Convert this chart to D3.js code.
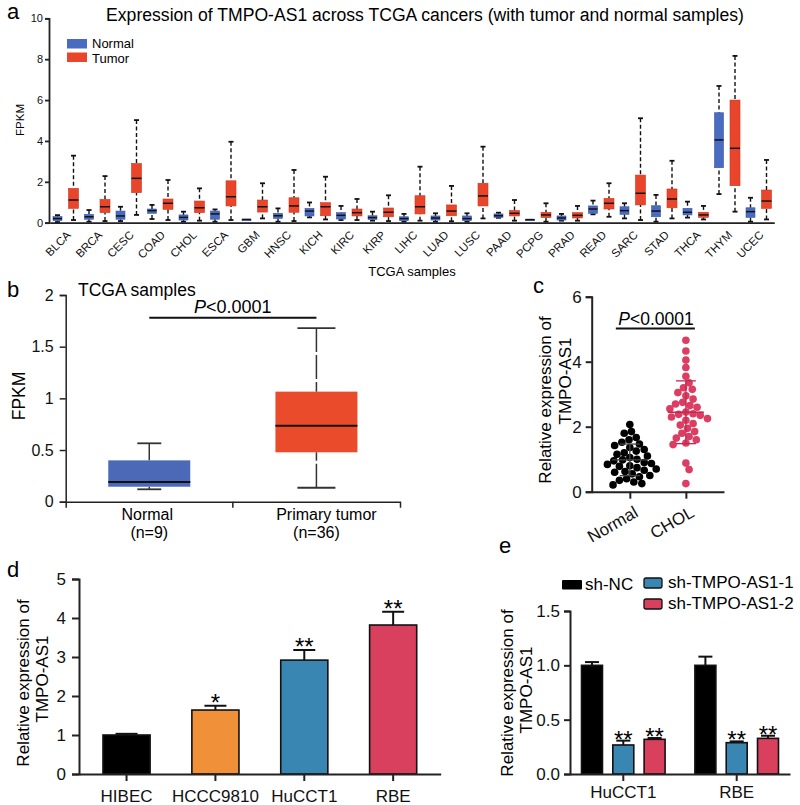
<!DOCTYPE html>
<html><head><meta charset="utf-8">
<script src="https://cdn.jsdelivr.net/npm/d3@7"></script>
<style>body{margin:0;background:#fff}svg{display:block}text{font-family:"Liberation Sans",Arial,Helvetica,sans-serif}</style>
</head><body><svg id="fig" width="800" height="805"></svg>
<script>
// ---------- Panel a data ----------
const cancerTypes = ["BLCA","BRCA","CESC","COAD","CHOL","ESCA","GBM","HNSC","KICH","KIRC","KIRP","LIHC","LUAD","LUSC","PAAD","PCPG","PRAD","READ","SARC","STAD","THCA","THYM","UCEC"];
// [min, q1, median, q3, max]
const normalStats = [
 [0.03,0.10,0.20,0.30,0.37],[0.05,0.17,0.29,0.41,0.62],[0.08,0.17,0.33,0.57,0.78],[0.18,0.46,0.59,0.67,0.87],
 [0.05,0.13,0.26,0.38,0.54],[0.05,0.17,0.43,0.57,0.65],[0.14,0.14,0.16,0.17,0.17],[0.05,0.21,0.34,0.46,0.70],
 [0.26,0.33,0.57,0.70,0.99],[0.13,0.18,0.36,0.49,0.82],[0.10,0.16,0.25,0.34,0.54],[0.05,0.10,0.20,0.29,0.43],
 [0.05,0.13,0.23,0.33,0.46],[0.05,0.10,0.20,0.33,0.46],[0.24,0.26,0.34,0.43,0.49],[0.13,0.13,0.15,0.17,0.17],
 [0.10,0.13,0.23,0.33,0.43],[0.41,0.46,0.67,0.82,1.08],[0.21,0.41,0.59,0.78,0.95],[0.05,0.29,0.57,0.83,1.36],
 [0.25,0.38,0.51,0.70,1.03],[1.40,2.69,4.05,5.38,6.69],[0.05,0.26,0.54,0.73,1.22]
];
const tumorStats = [
 [0.13,0.70,1.11,1.68,3.28],[0.08,0.49,0.78,1.14,2.28],[0.38,1.47,2.17,2.90,5.02],[0.13,0.65,0.95,1.16,2.09],
 [0.10,0.49,0.73,1.06,1.68],[0.13,0.82,1.27,2.05,3.96],[0.21,0.52,0.78,1.11,1.93],[0.08,0.51,0.82,1.22,2.58],
 [0.16,0.34,0.78,0.98,2.25],[0.13,0.33,0.49,0.67,1.16],[0.08,0.29,0.51,0.72,1.34],[0.10,0.43,0.78,1.32,2.74],
 [0.07,0.34,0.57,0.87,1.80],[0.21,0.82,1.31,1.93,3.72],[0.10,0.33,0.46,0.60,1.11],[0.05,0.25,0.38,0.51,0.95],
 [0.10,0.23,0.36,0.49,0.82],[0.29,0.67,0.95,1.19,1.93],[0.13,0.87,1.44,2.33,5.11],[0.21,0.73,1.16,1.65,3.03],
 [0.16,0.26,0.38,0.51,0.82],[0.54,1.81,3.64,6.00,8.16],[0.16,0.70,1.06,1.60,3.07]
];
const yTicksA = [0,2,4,6,8,10];
const groupsA = ["Normal","Tumor"];

// ---------- Panel b data ----------
const groupsB = ["Normal","Primary tumor"];
const countsB = ["(n=9)","(n=36)"];
const statsB = [[0.12,0.145,0.19,0.40,0.565],[0.135,0.478,0.735,1.065,1.68]];
const yTicksB = [0,0.5,1,1.5,2];

// ---------- Panel c data ----------
const groupsC = ["Normal","CHOL"];
const cNormal = [2.07,1.85,1.80,1.67,1.60,1.52,1.47,1.42,1.36,1.30,1.25,1.20,1.15,1.10,1.05,1.00,0.98,0.95,0.90,0.87,0.84,0.80,0.78,0.74,0.70,0.66,0.62,0.60,0.55,0.50,0.46,0.40,0.35,0.30,0.25,0.21];
const cChol = [4.66,4.33,4.05,3.82,3.55,3.35,3.20,3.15,3.05,2.95,2.85,2.75,2.70,2.65,2.60,2.55,2.45,2.40,2.38,2.35,2.30,2.25,2.20,2.10,2.05,1.95,1.85,1.80,1.70,1.65,1.60,1.50,1.45,0.88,0.68,0.25];
const yTicksC = [0,2,4,6];

// ---------- Panel d data ----------
const dCells = ["HIBEC","HCCC9810","HuCCT1","RBE"];
const dMeans = [1.00,1.64,2.92,3.82];
const dErrs = [0.03,0.11,0.26,0.34];
const dStars = ["","*","**","**"];
const yTicksD = [0,1,2,3,4,5];

// ---------- Panel e data ----------
const eCells = ["HuCCT1","RBE"];
const eSeries = ["sh-NC","sh-TMPO-AS1-1","sh-TMPO-AS1-2"];
const eNC = [1.00,1.00];
const eSh1 = [0.267,0.288];
const eSh2 = [0.319,0.328];
const eNCerr = [0.03,0.08];
const eSh1err = [0.04,0.012];
const eSh2err = [0.012,0.024];
const eStars = [["","**","**"],["","**","**"]];
const yTicksE = [0,0.5,1.0,1.5];

// ---------- styles ----------
const AX = "#222";
const colA = {Normal:"#4a6cc0", Tumor:"#e9452a"};
const colB = ["#4b69b6","#ea4b2b"];
const colC = ["#000000","#dc3d63"];
const colD = ["#000000","#f0913a","#3a86b3","#d9405e"];
const colE = ["#000000","#3a86b3","#d9405e"];

const svg = d3.select("#fig");
function styleAxis(sel, fs, sw){
  sel.attr("font-size",fs).attr("font-family",null);
  sel.selectAll("path,line").attr("stroke",AX).attr("stroke-width",sw||1.5);
  sel.selectAll("text").attr("font-size",fs).attr("fill","#111");
}
function letter(t,x,y){ svg.append("text").attr("x",x).attr("y",y).attr("font-size",22).text(t); }
function rotLabel(lines, xs, fs, centers){
  lines.forEach((t,i)=>{
    svg.append("text").attr("transform",`translate(${xs[i]},${centers[i]}) rotate(-90)`)
      .attr("text-anchor","middle").attr("font-size",fs).text(t);
  });
}
function drawBox(g, cx, w, s, y, fill, o){
  const [mn,q1,md,q3,mx] = s;
  const wl = g.append("g").attr("stroke",o.wColor).attr("stroke-width",o.wWidth).attr("stroke-dasharray",o.dash);
  wl.append("line").attr("x1",cx).attr("x2",cx).attr("y1",y(mx)).attr("y2",y(q3));
  wl.append("line").attr("x1",cx).attr("x2",cx).attr("y1",y(mn)).attr("y2",y(q1));
  const cp = g.append("g").attr("stroke",o.wColor).attr("stroke-width",o.capWidth);
  if (mx>q3) cp.append("line").attr("x1",cx-o.cap/2).attr("x2",cx+o.cap/2).attr("y1",y(mx)).attr("y2",y(mx));
  if (mn<q1) cp.append("line").attr("x1",cx-o.cap/2).attr("x2",cx+o.cap/2).attr("y1",y(mn)).attr("y2",y(mn));
  g.append("rect").attr("x",cx-w/2).attr("width",w).attr("y",y(q3)).attr("height",Math.max(1.5,y(q1)-y(q3)))
    .attr("fill",fill).attr("stroke",o.boxStroke||"none").attr("stroke-width",0.6);
  g.append("line").attr("x1",cx-w/2).attr("x2",cx+w/2).attr("y1",y(md)).attr("y2",y(md)).attr("stroke","#111").attr("stroke-width",o.medWidth);
}

// =============== Panel a ===============
letter("a",7,19);
const xA = d3.scaleBand().domain(cancerTypes).range([49.75,774.25]);
const subA = d3.scalePoint().domain(groupsA).range([-8,8]);
const yA = d3.scaleLinear().domain([0,10]).range([222.7,18.3]);
const gA = svg.append("g");
cancerTypes.forEach((c,i)=>{
  const cx = xA(c)+xA.bandwidth()/2;
  drawBox(gA, cx+subA("Normal"), 9, normalStats[i], yA, colA.Normal, {wColor:"#111",wWidth:1.4,dash:"4,2.5",cap:5,capWidth:1.8,medWidth:1.5,boxStroke:"#3857a5"});
  drawBox(gA, cx+subA("Tumor"), 10, tumorStats[i], yA, colA.Tumor, {wColor:"#111",wWidth:1.4,dash:"4,2.5",cap:5,capWidth:1.8,medWidth:1.5,boxStroke:"#c93a20"});
});
gA.append("g").attr("transform","translate(49,0)").call(d3.axisLeft(yA).tickValues(yTicksA).tickFormat(d3.format("d")).tickSize(4).tickPadding(2)).call(styleAxis,11,1.8);
const axA = gA.append("g").attr("transform",`translate(0,${yA(0)})`).call(d3.axisBottom(xA).tickSize(0).tickSizeOuter(0)).call(styleAxis,11.5,1.8);
axA.selectAll(".tick text").attr("text-anchor","end").attr("x",0).attr("y",0).attr("dy",0)
  .attr("transform","translate(6,13) rotate(-45)");
svg.append("text").attr("x",425).attr("y",21).attr("text-anchor","middle").attr("font-size",17.6)
  .text("Expression of TMPO-AS1 across TCGA cancers (with tumor and normal samples)");
svg.append("text").attr("transform","translate(24,120) rotate(-90)").attr("text-anchor","middle").attr("font-size",11.5).text("FPKM");
svg.append("text").attr("x",412).attr("y",276).attr("text-anchor","middle").attr("font-size",13).text("TCGA samples");
groupsA.forEach((gname,i)=>{
  svg.append("rect").attr("x",67).attr("y",39+i*13.5).attr("width",20).attr("height",9.5).attr("fill",colA[gname]);
  svg.append("text").attr("x",92).attr("y",48+i*14.5).attr("font-size",13).text(gname);
});

// =============== Panel b ===============
letter("b",7,297);
const xB = d3.scaleBand().domain(groupsB).range([65.7,400]);
const yB = d3.scaleLinear().domain([0,2]).range([501.7,295]);
const gB = svg.append("g");
groupsB.forEach((gname,i)=>{
  const cx = xB(gname)+xB.bandwidth()/2;
  drawBox(gB, cx, 82, statsB[i], yB, colB[i], {wColor:"#333",wWidth:1.5,dash:"24,3",cap:i?38:24,capWidth:1.8,medWidth:2});
});
gB.append("g").attr("transform","translate(65.7,0)").call(d3.axisLeft(yB).tickValues(yTicksB).tickFormat(d=>String(d)).tickSize(6).tickPadding(6)).call(styleAxis,16);
gB.append("g").attr("transform",`translate(0,${yB(0)})`).call(d3.axisBottom(xB).tickSize(0).tickSizeOuter(6).tickFormat("")).call(styleAxis,16);
gB.append("line").attr("x1",xB(groupsB[1])).attr("x2",xB(groupsB[1])).attr("y1",yB(0)).attr("y2",yB(0)+6).attr("stroke",AX).attr("stroke-width",1.5);
groupsB.forEach((gname,i)=>{
  const cx = xB(gname)+xB.bandwidth()/2;
  svg.append("text").attr("x",cx+(i?10:-2)).attr("y",520).attr("text-anchor","middle").attr("font-size",16).text(gname);
  svg.append("text").attr("x",cx).attr("y",538).attr("text-anchor","middle").attr("font-size",16).text(countsB[i]);
});
svg.append("text").attr("x",78).attr("y",296).attr("font-size",17.5).text("TCGA samples");
{
  const c0 = xB(groupsB[0])+xB.bandwidth()/2, c1 = xB(groupsB[1])+xB.bandwidth()/2;
  svg.append("line").attr("x1",c0).attr("x2",c1).attr("y1",317.7).attr("y2",317.7).attr("stroke","#111").attr("stroke-width",2);
  const t = svg.append("text").attr("x",(c0+c1)/2).attr("y",312.5).attr("text-anchor","middle").attr("font-size",18);
  t.append("tspan").attr("font-style","italic").text("P");
  t.append("tspan").text("<0.0001");
}
svg.append("text").attr("transform","translate(25,396) rotate(-90)").attr("text-anchor","middle").attr("font-size",17.5).text("FPKM");

// =============== Panel c ===============
letter("c",533,293);
const xC = d3.scalePoint().domain(groupsC).range([591.7,724]).padding(0.68);
const yC = d3.scaleLinear().domain([0,6]).range([491.7,296.7]);
const gC = svg.append("g");
function swarm(vals, cx, y, r){
  const placed = [];
  const order = vals.map((v,i)=>({v,i})).sort((a,b)=>b.v-a.v);
  const offs=[0]; for(let k=1;k<60;k++){offs.push(k*0.8,-k*0.8);}
  order.forEach(p=>{
    const py=y(p.v);
    for(const o of offs){
      const px=cx+o;
      if(placed.every(q=>(q.x-px)**2+(q.y-py)**2 >= (2*r*0.95)**2)){placed.push({x:px,y:py});break;}
    }
  });
  return placed;
}
[cNormal,cChol].forEach((vals,i)=>{
  const cx = xC(groupsC[i]);
  const pts = swarm(vals,cx,yC,3.8);
  gC.append("g").selectAll("circle").data(pts).join("circle").attr("cx",d=>d.x).attr("cy",d=>d.y).attr("r",3.8).attr("fill",colC[i]);
  const m = d3.mean(vals), s = d3.deviation(vals);
  const eg = gC.append("g").attr("stroke",i? "#c02a50":"#444").attr("stroke-width",1.3);
  eg.append("line").attr("x1",cx-18).attr("x2",cx+18).attr("y1",yC(m)).attr("y2",yC(m));
  eg.append("line").attr("x1",cx).attr("x2",cx).attr("y1",yC(m-s)).attr("y2",yC(m+s));
  eg.append("line").attr("x1",cx-10).attr("x2",cx+10).attr("y1",yC(m+s)).attr("y2",yC(m+s));
  eg.append("line").attr("x1",cx-10).attr("x2",cx+10).attr("y1",yC(m-s)).attr("y2",yC(m-s));
});
gC.append("g").attr("transform","translate(591.7,0)").call(d3.axisLeft(yC).tickValues(yTicksC).tickFormat(d3.format("d")).tickSize(6).tickPadding(4)).call(styleAxis,17,2);
const axC = gC.append("g").attr("transform",`translate(0,${yC(0)})`).call(d3.axisBottom(xC).tickSize(7).tickSizeOuter(0)).call(styleAxis,17,2);
axC.selectAll(".tick text").attr("text-anchor","end").attr("x",0).attr("y",0).attr("dy",0).attr("transform","translate(9,24) rotate(-30)");
{
  const c0 = xC(groupsC[0])-14, c1 = xC(groupsC[1])+9;
  svg.append("line").attr("x1",c0).attr("x2",c1).attr("y1",328.5).attr("y2",328.5).attr("stroke","#111").attr("stroke-width",2);
  const t = svg.append("text").attr("x",656).attr("y",325).attr("text-anchor","middle").attr("font-size",17.5);
  t.append("tspan").attr("font-style","italic").text("P");
  t.append("tspan").text("<0.0001");
}
rotLabel(["Relative expression of","TMPO-AS1"],[551,571],17,[400,381]);

// =============== Panel d ===============
letter("d",7,577);
const xD = d3.scaleBand().domain(dCells).range([79,440.7]).paddingInner(0.47).paddingOuter(0.27);
const yD = d3.scaleLinear().domain([0,5]).range([774,579]);
const gD = svg.append("g");
dCells.forEach((c,i)=>{
  const x0 = xD(c), bw = xD.bandwidth(), cx = x0+bw/2;
  gD.append("line").attr("x1",cx).attr("x2",cx).attr("y1",yD(dMeans[i])).attr("y2",yD(dMeans[i]+dErrs[i])).attr("stroke","#111").attr("stroke-width",2);
  gD.append("line").attr("x1",cx-11).attr("x2",cx+11).attr("y1",yD(dMeans[i]+dErrs[i])).attr("y2",yD(dMeans[i]+dErrs[i])).attr("stroke","#111").attr("stroke-width",2);
  gD.append("rect").attr("x",x0).attr("width",bw).attr("y",yD(dMeans[i])).attr("height",yD(0)-yD(dMeans[i])).attr("fill",colD[i]).attr("stroke","#111").attr("stroke-width",1.6);
  if(dStars[i]) gD.append("text").attr("x",cx).attr("y",yD(dMeans[i]+dErrs[i])+5).attr("text-anchor","middle").attr("font-size",24).text(dStars[i]);
});
gD.append("g").attr("transform","translate(79,0)").call(d3.axisLeft(yD).tickValues(yTicksD).tickFormat(d3.format("d")).tickSize(7).tickPadding(6)).call(styleAxis,17,2);
gD.append("g").attr("transform",`translate(0,${yD(0)})`).call(d3.axisBottom(xD).tickSize(7).tickSizeOuter(0).tickPadding(6)).call(styleAxis,17,2)
  .selectAll(".tick text").attr("dy",0).attr("y",27.5);
rotLabel(["Relative expression of","TMPO-AS1"],[29,47.5],17,[683,679]);

// =============== Panel e ===============
letter("e",499,553);
const xE = d3.scaleBand().domain(eCells).range([570,790]).paddingInner(0.1).paddingOuter(0.02);
const subE = d3.scaleBand().domain(eSeries).range([0,xE.bandwidth()]).paddingInner(0.33).paddingOuter(0.295);
const yE = d3.scaleLinear().domain([0,1.5]).range([774,611]);
const gE = svg.append("g");
const eVals = [eNC,eSh1,eSh2], eErr = [eNCerr,eSh1err,eSh2err];
eCells.forEach((c,ci)=>{
  eSeries.forEach((s,si)=>{
    const x0 = xE(c)+subE(s), bw = subE.bandwidth(), cx = x0+bw/2;
    const v = eVals[si][ci], e = eErr[si][ci];
    gE.append("line").attr("x1",cx).attr("x2",cx).attr("y1",yE(v)).attr("y2",yE(v+e)).attr("stroke","#111").attr("stroke-width",2);
    gE.append("line").attr("x1",cx-7).attr("x2",cx+7).attr("y1",yE(v+e)).attr("y2",yE(v+e)).attr("stroke","#111").attr("stroke-width",2);
    gE.append("rect").attr("x",x0).attr("width",bw).attr("y",yE(v)).attr("height",yE(0)-yE(v)).attr("fill",colE[si]).attr("stroke","#111").attr("stroke-width",1.6);
    if(eStars[ci][si]) gE.append("text").attr("x",cx).attr("y",yE(v+e)+7).attr("text-anchor","middle").attr("font-size",24).text(eStars[ci][si]);
  });
});
gE.append("g").attr("transform","translate(570,0)").call(d3.axisLeft(yE).tickValues(yTicksE).tickFormat(d3.format(".1f")).tickSize(6).tickPadding(4)).call(styleAxis,17,2);
gE.append("g").attr("transform",`translate(0,${yE(0)})`).call(d3.axisBottom(xE).tickSize(7).tickSizeOuter(0).tickPadding(6)).call(styleAxis,17,2)
  .selectAll(".tick text").attr("dy",0).attr("y",24);
rotLabel(["Relative expression of","TMPO-AS1"],[512.5,532],17,[693,690]);
// legend e
const legPos = [[562,580,585],[644,578,668],[644,599,668]];
eSeries.forEach((s,i)=>{
  svg.append("rect").attr("x",legPos[i][0]).attr("y",legPos[i][1]).attr("width",i?18:20).attr("height",i?10:9.5).attr("rx",i?2:1)
    .attr("fill",colE[i]).attr("stroke",i?"#111":"none").attr("stroke-width",1.3);
  svg.append("text").attr("x",legPos[i][2]).attr("y",legPos[i][1]+(i?10:9.5)).attr("font-size",17).text(s);
});
</script></body></html>
